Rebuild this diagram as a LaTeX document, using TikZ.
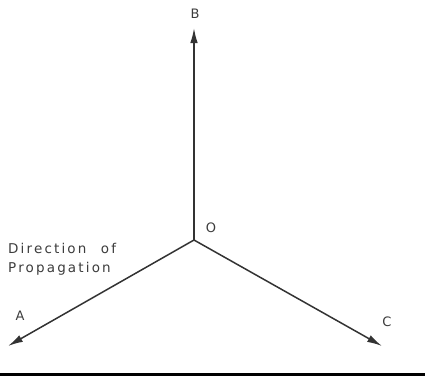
\documentclass[tikz,border=0pt]{standalone}
\usepackage{fontspec}
\setmainfont{DejaVu Sans}[LetterSpace=16]
\usetikzlibrary{arrows.meta, positioning}
\definecolor{PlotGray}{HTML}{333333}
\definecolor{TextGray}{HTML}{3C3C3C}
\tikzset{
    % Axis and text styles
    axisarrow/.style={
        -{Latex[length=15pt,width=7.5pt]},
        line width=1.5pt,
        draw=PlotGray
    },
    axislabel/.style={
        font=\fontsize{13}{14}\selectfont,
        text=TextGray,
        inner sep=0pt
    },
    note/.style={
        font=\fontsize{13.5}{19}\selectfont,
        text=TextGray,
        align=left,
        inner sep=0pt
    }
}
\begin{document}
\begin{tikzpicture}[x=1pt, y=-1pt]
    \useasboundingbox (0,0) rectangle (425,376);

    \coordinate (o) at (194,240);
    \coordinate (b) at (194,28);
    \coordinate (a) at (8,346);
    \coordinate (c) at (382,346);

    \node[axislabel] (lb) at (195,14) {B};
    \node[axislabel] (lo) at (211,228) {O};
    \node[axislabel] (la) at (20,316) {A};
    \node[axislabel] (lc) at (387,322) {C};

    \node[note, anchor=north west] (dir) at (8,243) {Direction\hspace{8pt} of\\Propagation};

    \draw[axisarrow] (o) -- (b);
    \draw[axisarrow] (o) -- (a);
    \draw[axisarrow] (o) -- (c);

    \draw[line width=3pt, draw=black] (0,374.5) -- (425,374.5);
\end{tikzpicture}
\end{document}
